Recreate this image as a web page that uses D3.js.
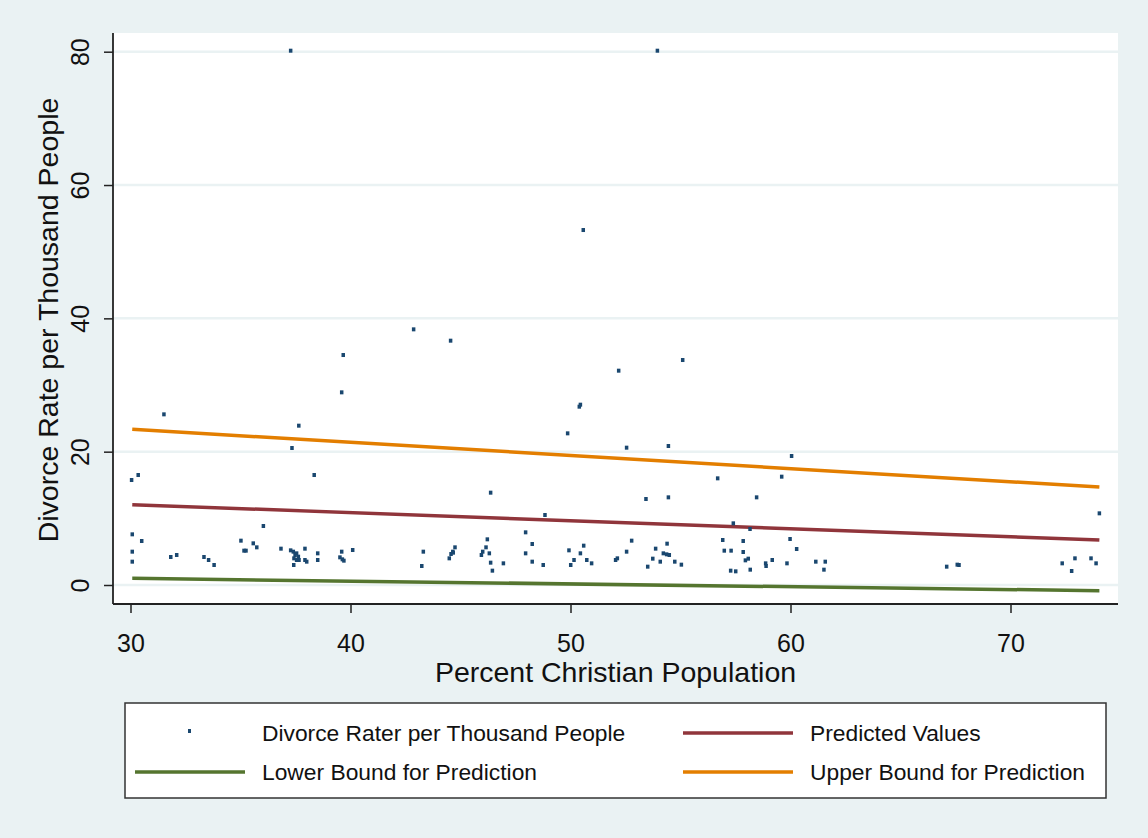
<!DOCTYPE html>
<html>
<head>
<meta charset="utf-8">
<script src="https://cdn.jsdelivr.net/npm/d3@7"></script>
<style>
  body { margin: 0; background: #eaf2f3; }
  text { font-family: "Liberation Sans", Arial, sans-serif; fill: #111; }
</style>
</head>
<body>
<div id="chart"></div>
<script>
// percent christian population (x) and divorce rate per thousand (y)
const pctChristian = [
  30.08, 30.51, 30.08, 30.08, 31.83, 32.10, 33.34, 33.55, 33.80, 36.04,
  35.02, 35.16, 35.25, 35.58, 35.74, 36.84, 37.28, 37.40, 37.48, 37.55,
  37.63, 37.43, 37.55, 37.66, 37.42, 37.93, 37.93, 38.01, 38.51, 38.51,
  30.05, 30.35, 31.52, 39.60, 37.65, 37.34, 38.35, 37.28, 53.95, 50.58,
  42.87, 44.55, 39.67, 55.10, 52.19, 50.40, 50.45, 49.87, 46.37, 48.84,
  52.55, 54.45, 60.05, 56.69, 59.60, 53.43, 54.45, 58.46, 74.04, 39.60,
  40.10, 39.52, 39.63, 39.70, 43.31, 43.24, 44.75, 44.65, 44.57, 44.49,
  44.67, 46.22, 46.16, 46.01, 45.95, 46.31, 46.37, 46.45, 46.95, 47.96,
  48.26, 47.96, 48.26, 48.76, 49.93, 50.60, 50.45, 50.16, 50.01, 50.74,
  50.96, 52.05, 52.13, 52.78, 52.55, 53.51, 53.74, 53.87, 54.08, 54.39,
  54.22, 54.37, 54.49, 54.74, 55.04, 57.40, 58.16, 56.92, 57.85, 56.99,
  57.30, 57.85, 58.08, 57.95, 57.28, 57.51, 58.17, 58.87, 58.89, 59.17,
  59.84, 59.98, 60.28, 61.15, 61.58, 61.52, 67.10, 67.58, 67.66, 72.35,
  72.93, 72.78, 73.66, 73.89
];
const divorceRate = [
  7.6, 6.6, 5.0, 3.5, 4.2, 4.5, 4.2, 3.75, 3.0, 8.85,
  6.65, 5.15, 5.15, 6.25, 5.65, 5.45, 5.2, 5.0, 4.5, 4.75,
  4.25, 4.0, 3.75, 3.75, 3.0, 5.45, 3.75, 3.5, 4.75, 3.75,
  15.75, 16.5, 25.6, 28.9, 23.9, 20.55, 16.5, 80.15, 80.15, 53.25,
  38.35, 36.65, 34.5, 33.75, 32.15, 26.75, 27.05, 22.75, 13.85, 10.5,
  20.6, 20.85, 19.35, 16.0, 16.25, 12.9, 13.15, 13.15, 10.75, 5.0,
  5.25, 4.15, 3.85, 3.65, 5.0, 2.85, 5.65, 5.0, 4.65, 4.0,
  4.85, 6.85, 5.65, 5.0, 4.5, 4.75, 3.35, 2.15, 3.25, 7.9,
  6.15, 4.75, 3.5, 3.0, 5.2, 5.9, 4.75, 3.75, 3.0, 3.75,
  3.25, 3.75, 4.0, 6.65, 5.0, 2.75, 3.95, 5.45, 3.5, 6.2,
  4.75, 4.6, 4.5, 3.5, 3.05, 9.25, 8.4, 6.75, 6.6, 5.15,
  5.15, 4.95, 3.95, 3.7, 2.15, 2.05, 2.3, 3.25, 2.85, 3.75,
  3.25, 6.9, 5.4, 3.5, 3.5, 2.3, 2.75, 3.05, 3.0, 3.25,
  4.0, 2.1, 4.0, 3.25
];

// fitted line endpoints (x range of data)
const fitX = [30.08, 74.04];
const predicted = [12.05, 6.75];
const lowerBound = [1.0, -0.85];
const upperBound = [23.35, 14.7];

const xTicks = [30, 40, 50, 60, 70];
const yTicks = [0, 20, 40, 60, 80];

const legendItems = [
  { label: "Divorce Rater per Thousand People", type: "point", color: "#1a476f" },
  { label: "Predicted Values", type: "line", color: "#90353b" },
  { label: "Lower Bound for Prediction", type: "line", color: "#55752f" },
  { label: "Upper Bound for Prediction", type: "line", color: "#e37e00" }
];

const svgWidth = 1148, svgHeight = 838;
const svg = d3.select('#chart')
  .append('svg')
  .attr('width', svgWidth)
  .attr('height', svgHeight);

svg.append('rect')
  .attr('width', svgWidth).attr('height', svgHeight)
  .attr('fill', '#eaf2f3');

const plot = { left: 113, right: 1118, top: 33, bottom: 604 };

// Scale X
const x = d3.scaleLinear()
  .domain([30, 70])
  .range([130.5, 1010.5]);

// Scale Y
const y = d3.scaleLinear()
  .domain([0, 80])
  .range([585, 51.7]);

// plot region
svg.append('rect')
  .attr('x', plot.left).attr('y', plot.top)
  .attr('width', plot.right - plot.left)
  .attr('height', plot.bottom - plot.top)
  .attr('fill', '#fff');

// grid lines
svg.append('g')
  .selectAll('line')
  .data(yTicks)
  .enter()
  .append('line')
  .attr('x1', plot.left).attr('x2', plot.right)
  .attr('y1', d => y(d)).attr('y2', d => y(d))
  .attr('stroke', '#eaf2f3')
  .attr('stroke-width', 2.5);

// Y - Axis
const yAxis = svg.append('g')
  .attr('transform', `translate(${plot.left},0)`)
  .call(d3.axisLeft(y).tickValues(yTicks).tickSize(9).tickSizeOuter(0).tickFormat(d3.format('d')));
yAxis.select('.domain')
  .attr('d', `M0,${plot.top}V${plot.bottom}`)
  .attr('stroke', '#222').attr('stroke-width', 1.8);
yAxis.selectAll('.tick line').attr('stroke', '#222').attr('stroke-width', 1.5);
yAxis.selectAll('.tick text')
  .attr('x', null).attr('dy', null)
  .attr('transform', 'translate(-24,0) rotate(-90)')
  .attr('text-anchor', 'middle')
  .attr('font-size', 25)
  .attr('fill', '#111');

// X - Axis
const xAxis = svg.append('g')
  .attr('transform', `translate(0,${plot.bottom})`)
  .call(d3.axisBottom(x).tickValues(xTicks).tickSize(9).tickSizeOuter(0).tickFormat(d3.format('d')));
xAxis.select('.domain')
  .attr('d', `M${plot.left},0H${plot.right}`)
  .attr('stroke', '#222').attr('stroke-width', 1.8);
xAxis.selectAll('.tick line').attr('stroke', '#222').attr('stroke-width', 1.5);
xAxis.selectAll('.tick text')
  .attr('y', 48).attr('dy', null)
  .attr('font-size', 25)
  .attr('fill', '#111');

// axis titles
svg.append('text')
  .attr('x', (plot.left + plot.right) / 2)
  .attr('y', 682)
  .attr('text-anchor', 'middle')
  .attr('font-size', 28.5)
  .text('Percent Christian Population');

svg.append('text')
  .attr('transform', 'translate(58,320) rotate(-90)')
  .attr('text-anchor', 'middle')
  .attr('font-size', 28.5)
  .text('Divorce Rate per Thousand People');

// fitted lines
const line = d3.line()
  .x(d => x(d[0]))
  .y(d => y(d[1]));

[[upperBound, '#e37e00'], [predicted, '#90353b'], [lowerBound, '#55752f']].forEach(([vals, color]) => {
  svg.append('path')
    .datum(fitX.map((fx, i) => [fx, vals[i]]))
    .attr('fill', 'none')
    .attr('stroke', color)
    .attr('stroke-width', 3.5)
    .attr('d', line);
});

// scatter points
svg.append('g')
  .selectAll('rect')
  .data(pctChristian.map((px, i) => [px, divorceRate[i]]))
  .enter()
  .append('rect')
  .attr('x', d => x(d[0]) - 1.75)
  .attr('y', d => y(d[1]) - 2)
  .attr('width', 3.5).attr('height', 4)
  .attr('fill', '#1a476f');

// legend
const legend = svg.append('g');
legend.append('rect')
  .attr('x', 125).attr('y', 703)
  .attr('width', 981).attr('height', 95)
  .attr('fill', '#fff')
  .attr('stroke', '#333')
  .attr('stroke-width', 1.5);

const cols = [135, 683];
const rows = [733, 772];
legendItems.forEach((item, i) => {
  const cx = cols[i % 2], cy = rows[Math.floor(i / 2)];
  const g = legend.append('g');
  if (item.type === 'point') {
    g.append('rect')
      .attr('x', cx + 53).attr('y', cy - 4)
      .attr('width', 3).attr('height', 4)
      .attr('fill', item.color);
  } else {
    g.append('line')
      .attr('x1', cx).attr('x2', cx + 110)
      .attr('y1', cy).attr('y2', cy)
      .attr('stroke', item.color)
      .attr('stroke-width', 3.5);
  }
  g.append('text')
    .attr('x', cx + 127)
    .attr('y', cy + 8)
    .attr('font-size', 22.8)
    .text(item.label);
});
</script>
</body>
</html>
